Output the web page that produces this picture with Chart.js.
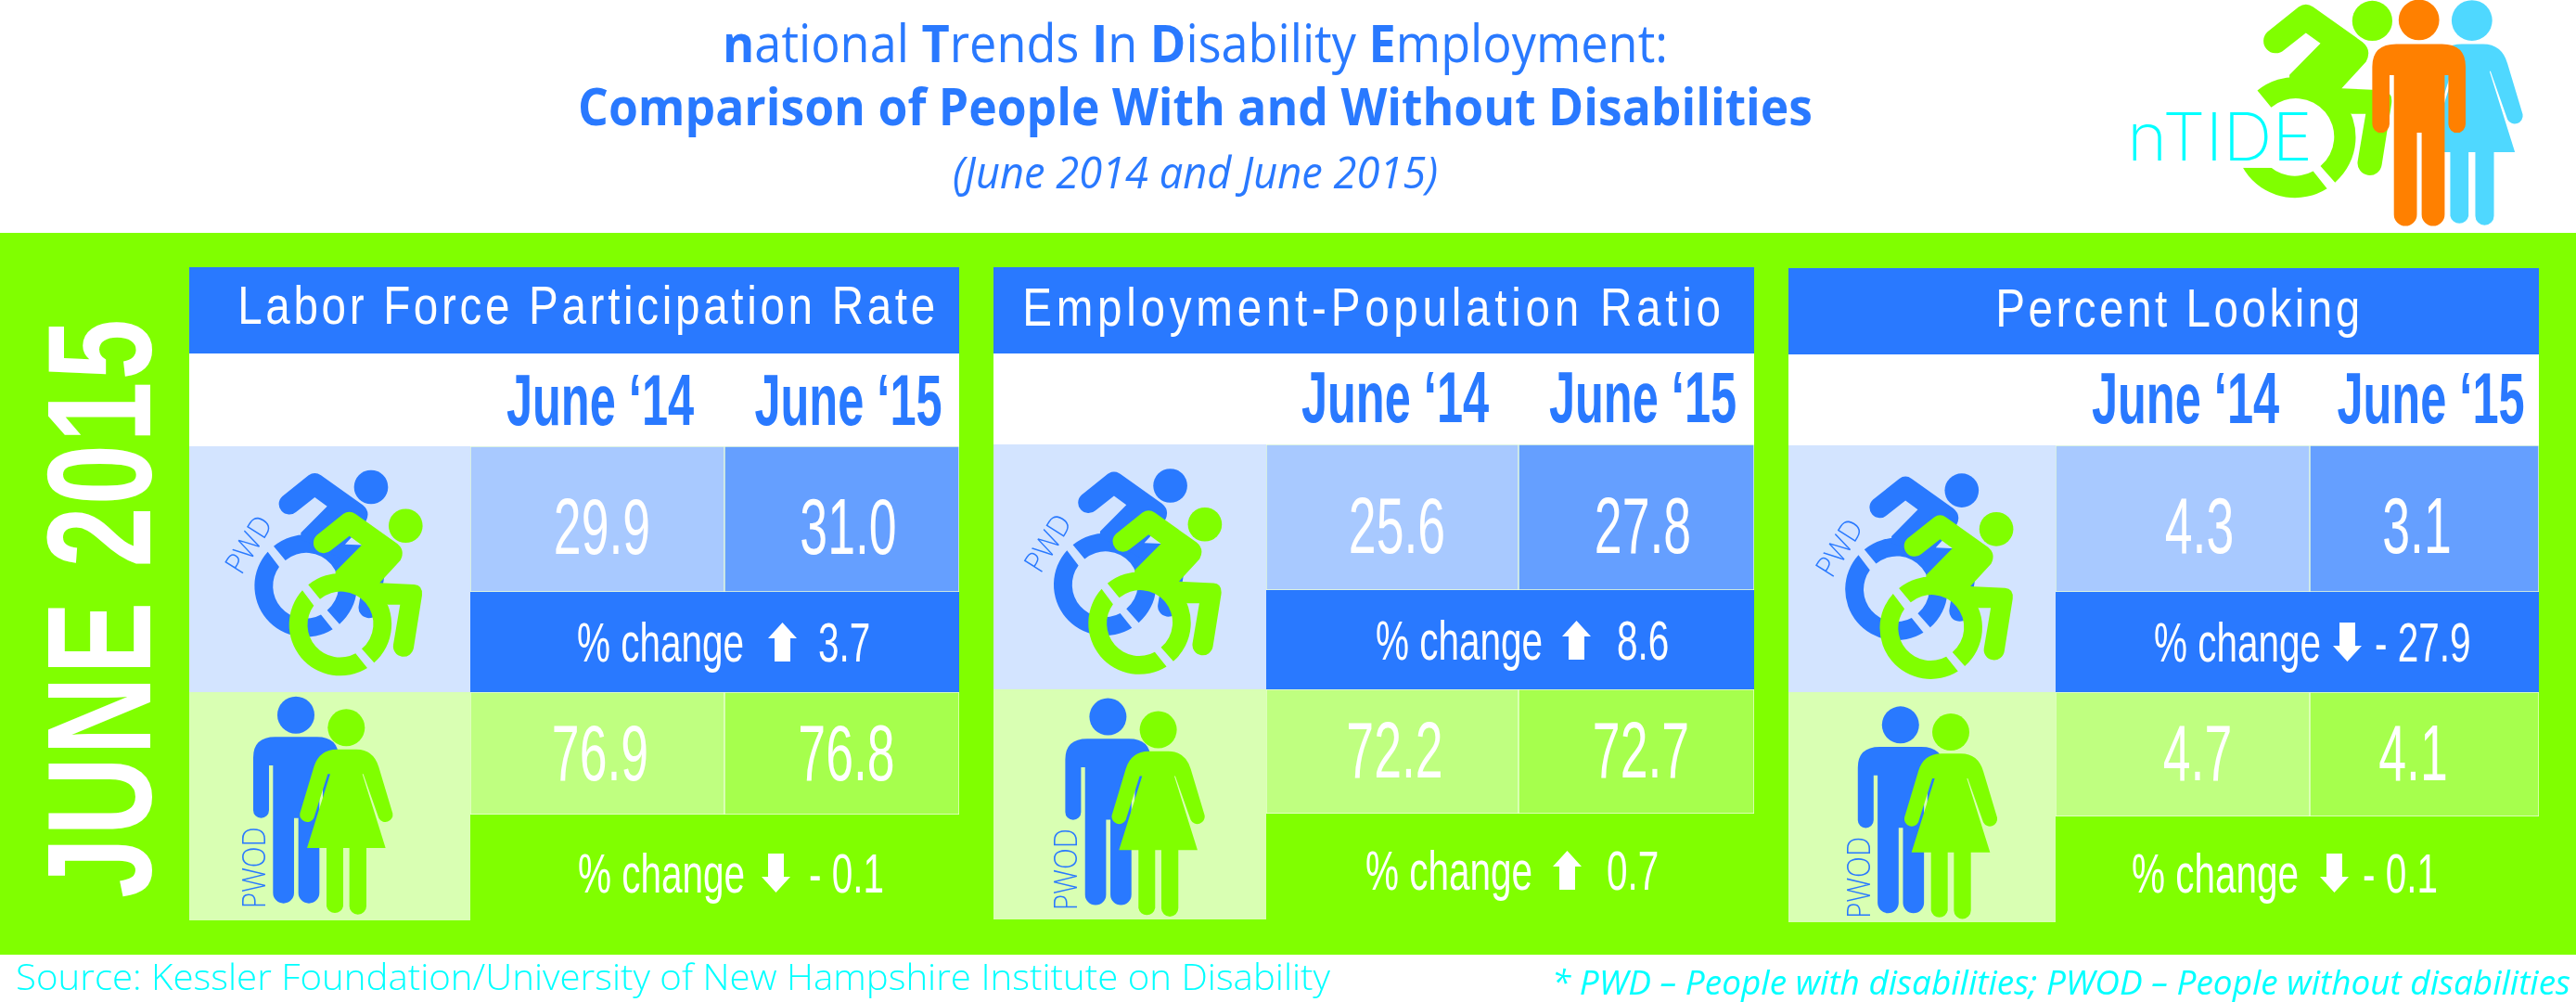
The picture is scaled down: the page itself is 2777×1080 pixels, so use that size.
<!DOCTYPE html>
<html>
<head>
<meta charset="utf-8">
<title>nTIDE June 2015</title>
<script src="https://cdn.jsdelivr.net/npm/chart.js@4/dist/chart.umd.js"></script>
<style>
    html, body { margin: 0; padding: 0; background: #fff; width: 2777px; height: 1080px; overflow: hidden; }
    #band { position: absolute; left: 0; top: 251px; width: 2777px; height: 778px; background: #80ff00; }
    canvas { position: absolute; }
    #overlay { position: absolute; left: 0; top: 0; }
</style>
</head>
<body>
<div id="band"></div>
<div id="charts"></div>
<svg id="overlay" width="2777" height="1080" viewBox="0 0 2777 1080" xmlns="http://www.w3.org/2000/svg">
    <defs>
        <g id="chair">
            <circle cx="212" cy="-320" r="55"/>
            <path d="M-103,-129 A165,165 0 0 1 110,123 L70,78 A105,105 0 0 0 -65,-83 Z"/>
            <path d="M-122,-111 A165,165 0 0 0 88,139.6 L50,92.3 A105,105 0 0 1 -85,-62 Z"/>
            <use href="#chairBody"/>
        </g>
        <path id="chairBody" d="M10,-358 Q30,-372 50,-358 L185,-262 Q212,-240 195,-208 L128,-135 L240,-130 Q268,-128 265,-95 L238,75 A33,33 0 0 1 172,65 L194,-65 L155,-65 L110,-90 L40,-130 L-15,-150 L-15,-172 L70,-258 L30,-287 L-30,-240 A30,30 0 0 1 -75,-290 Z"/>
        <g id="man">
            <circle cx="357" cy="77" r="60"/>
            <path d="M219,215 Q219,148 290,148 L425,148 Q495,148 495,215 L495,385 A25.5,25.5 0 0 1 444,385 L444,240 L433,240 L433,652 A34,34 0 0 1 365,652 L365,410 L351,410 L351,652 A34,34 0 0 1 283,652 L283,240 L270,240 L270,385 A25.5,25.5 0 0 1 219,385 Z"/>
        </g>
        <g id="woman">
            <circle cx="520" cy="118" r="60"/>
            <path d="M415,245 Q432,188 490,188 L553,188 Q608,188 625,245 L670,395 A24,24 0 0 1 625,410 L575,268 L572,268 L647,507 L585,507 L585,695 A27.5,27.5 0 0 1 530,695 L530,507 L510,507 L510,695 A27.5,27.5 0 0 1 456,695 L456,507 L393,507 L468,268 L460,268 L415,410 A24,24 0 0 1 370,395 Z"/>
        </g>
    </defs>
    <g id="titles" fill="#2979ff" font-family="'Open Sans'">
        <text x="779" y="67" font-size="56" textLength="1019" lengthAdjust="spacingAndGlyphs"><tspan font-weight="700">n</tspan>ational <tspan font-weight="700">T</tspan>rends <tspan font-weight="700">I</tspan>n <tspan font-weight="700">D</tspan>isability <tspan font-weight="700">E</tspan>mployment:</text>
        <text x="623" y="135" font-size="56" font-weight="700" textLength="1331" lengthAdjust="spacingAndGlyphs">Comparison of People With and Without Disabilities</text>
        <text x="1027" y="203" font-size="48" font-style="italic" textLength="523" lengthAdjust="spacingAndGlyphs">(June 2014 and June 2015)</text>
    </g>
    <g id="logo">
        <g transform="translate(2474,148.3) scale(0.3933)" fill="#80ff00">
            <path d="M-122,-111 A165,165 0 0 0 88,139.6 L50,92.3 A105,105 0 0 1 -85,-62 Z"/>
            <rect x="-190" y="-120" width="150" height="203" fill="#fff"/>
            <circle cx="212" cy="-320" r="55"/>
            <path d="M-103,-129 A165,165 0 0 1 110,123 L70,78 A105,105 0 0 0 -65,-83 Z"/>
            <use href="#chairBody"/>
        </g>
        <use href="#woman" fill="#4fd8ff" transform="translate(2475,-21) scale(0.365)"/>
        <use href="#man" fill="#ff8000" transform="translate(2477.5,-6.6) scale(0.3647)"/>
        <text x="2293" y="173" fill="#00ffff" font-family="Inter" font-weight="200" font-size="72" textLength="200" lengthAdjust="spacingAndGlyphs">nTIDE</text>
    </g>
    <text transform="translate(162,968) rotate(-90) scale(0.733,1)" fill="#fff" font-family="'Liberation Sans'" font-weight="700" font-size="160" letter-spacing="3">JUNE 2015</text>
    <text x="17" y="1067" fill="#00ffff" font-family="'Open Sans'" font-weight="300" font-size="38" textLength="1417" lengthAdjust="spacingAndGlyphs">Source: Kessler Foundation/University of New Hampshire Institute on Disability</text>
    <text x="1673" y="1072" fill="#00ffff" font-family="'Open Sans'" font-style="italic" font-size="37" textLength="1098" lengthAdjust="spacingAndGlyphs">* PWD – People with disabilities; PWOD – People without disabilities</text>
    <g id="icons"></g>
</svg>
<script>
// --- 1. DATA ---
const panelTitles = ['Labor Force Participation Rate', 'Employment-Population Ratio', 'Percent Looking'];
const monthLabels = ['June ‘14', 'June ‘15'];
const pwdJune14 = [29.9, 25.6, 4.3];
const pwdJune15 = [31.0, 27.8, 3.1];
const pwdChange = [3.7, 8.6, -27.9];
const pwodJune14 = [76.9, 72.2, 4.7];
const pwodJune15 = [76.8, 72.7, 4.1];
const pwodChange = [-0.1, 0.7, -0.1];

// --- 2. LAYOUT & STYLE ---
const BLUE = '#2979ff', GREEN = '#80ff00', WHITE = '#ffffff';
const BLUE_14 = '#a8c9ff', BLUE_15 = '#659fff', BLUE_ICON = '#d3e4ff';
const GREEN_14 = '#bfff80', GREEN_15 = '#a6ff4d', GREEN_ICON = '#d9ffb3';
const NARROW = "'Liberation Sans'"; // squeezed with sx below

// column edges, row edges, then where the texts sit inside each panel
const panelLayout = [
    { cols: [204, 507, 781, 1034], rows: [288, 381, 481, 638, 746, 878, 992],
      titleDx: 15, titleBase: 349, titleSpacing: 4.5, monthBase: 458,
      valueBase: [597, 841], valueDx: [[5, 7], [3, 5]],
      change: [{ base: 713, x: [622, 828, 882] }, { base: 962, x: [623, 821, 872] }],
      chairHead: [400, 525], peopleAt: [[200, 745], [200, 745]] },
    { cols: [1071, 1365, 1637, 1891], rows: [288, 381, 479, 636, 743, 877, 991],
      titleDx: 0, titleBase: 351, titleSpacing: 5.8, monthBase: 455,
      valueBase: [596, 838], valueDx: [[5, 7], [2.5, 5]],
      change: [{ base: 711, x: [1483, 1684, 1743] }, { base: 959, x: [1472, 1674, 1732] }],
      chairHead: [1261.6, 523.5], peopleAt: [[1075.4, 746.9], [1075.3, 747.2]] },
    { cols: [1928, 2216, 2490, 2737], rows: [289, 382, 480, 638, 746, 880, 994],
      titleDx: 17, titleBase: 352, titleSpacing: 4.3, monthBase: 456,
      valueBase: [596, 841], valueDx: [[18, -8], [16, -12]],
      change: [{ base: 713, x: [2322, 2515, 2560] }, { base: 962, x: [2298, 2501, 2547] }],
      chairHead: [2114.8, 528.6], peopleAt: [[1929.8, 755.7], [1929.7, 749.7]] }
];

const COL_IDS = ['xIcon', 'x14', 'x15'];
const ROW_IDS = ['yHead', 'yMonth', 'yPwd', 'yPwdChange', 'yPwod', 'yPwodChange'];

// --- 3. HELPERS ---
function drawLabel(ctx, str, x, y, sizePx, opts) {
    ctx.save();
    ctx.translate(x, y);
    ctx.scale(opts.sx || 1, 1);
    ctx.font = (opts.weight || '400') + ' ' + sizePx + 'px ' + NARROW;
    ctx.fillStyle = opts.color || WHITE;
    ctx.textAlign = opts.align || 'center';
    ctx.textBaseline = 'alphabetic';
    ctx.letterSpacing = (opts.spacing || 0) + 'px';
    ctx.fillText(str, 0, 0);
    ctx.restore();
}

function drawArrow(ctx, x, base, up) {
    const w = 31, h = 42, head = 17, shaft = 17;
    const top = base - h, bottom = base, mid = x + w / 2;
    ctx.save();
    ctx.fillStyle = WHITE;
    ctx.beginPath();
    if (up) {
        ctx.moveTo(mid, top);
        ctx.lineTo(x + w, top + head);
        ctx.lineTo(mid + shaft / 2, top + head);
        ctx.lineTo(mid + shaft / 2, bottom);
        ctx.lineTo(mid - shaft / 2, bottom);
        ctx.lineTo(mid - shaft / 2, top + head);
        ctx.lineTo(x, top + head);
    } else {
        ctx.moveTo(mid, bottom);
        ctx.lineTo(x + w, bottom - head);
        ctx.lineTo(mid + shaft / 2, bottom - head);
        ctx.lineTo(mid + shaft / 2, top);
        ctx.lineTo(mid - shaft / 2, top);
        ctx.lineTo(mid - shaft / 2, bottom - head);
        ctx.lineTo(x, bottom - head);
    }
    ctx.closePath();
    ctx.fill();
    ctx.restore();
}

function formatChange(v) {
    return v < 0 ? '- ' + Math.abs(v).toFixed(1) : v.toFixed(1);
}

// one bar filling one cell of the table; stacked axes give the cell its size
function cell(col, row, color, value, border) {
    return {
        xAxisID: COL_IDS[col],
        yAxisID: ROW_IDS[row],
        data: [{ x: COL_IDS[col], y: 1 }],
        cellValue: value,
        backgroundColor: color,
        borderColor: border ? 'rgba(255,255,255,0.85)' : color,
        borderWidth: border ? 1 : 0,
        borderSkipped: false,
        grouped: false,
        categoryPercentage: 1,
        barPercentage: 1
    };
}

function buildScales(layout) {
    const scales = {};
    COL_IDS.forEach((id, i) => {
        scales[id] = {
            type: 'category', labels: [id], position: 'bottom', display: false, offset: true,
            stack: 'cols', stackWeight: layout.cols[i + 1] - layout.cols[i]
        };
    });
    ROW_IDS.forEach((id, i) => {
        scales[id] = {
            type: 'linear', position: 'right', display: false, min: 0, max: 1,
            stack: 'rows', stackWeight: layout.rows[i + 1] - layout.rows[i]
        };
    });
    return scales;
}

// --- 4. CHARTS ---
const panelText = {
    id: 'panelText',
    afterDatasetsDraw(chart, args, opts) {
        const ctx = chart.ctx;
        const p = opts.panel;
        const layout = panelLayout[p];
        const originX = layout.cols[0], originY = layout.rows[0];
        const s = chart.scales;

        const titleX = (s.xIcon.left + s.x15.right) / 2 + layout.titleDx;
        drawLabel(ctx, panelTitles[p], titleX, layout.titleBase - originY, 58, { sx: 0.82, spacing: layout.titleSpacing });

        monthLabels.forEach((label, i) => {
            const col = s[COL_IDS[i + 1]];
            const dx = i === 0 ? 3 : 7;
            drawLabel(ctx, label, (col.left + col.right) / 2 + dx, layout.monthBase - originY, 77,
                { sx: 0.656, weight: '700', color: BLUE });
        });

        chart.data.datasets.forEach((ds, i) => {
            if (ds.cellValue === null) return;
            const bar = chart.getDatasetMeta(i).data[0];
            const group = ds.yAxisID === 'yPwd' ? 0 : 1;
            const colIndex = ds.xAxisID === 'x14' ? 0 : 1;
            drawLabel(ctx, ds.cellValue.toFixed(1), bar.x + layout.valueDx[group][colIndex],
                layout.valueBase[group] - originY, 86, { sx: 0.623 });
        });

        [pwdChange[p], pwodChange[p]].forEach((v, i) => {
            const c = layout.change[i];
            const base = c.base - originY;
            drawLabel(ctx, '% change', c.x[0] - originX, base, 60, { sx: 0.675, align: 'left' });
            drawArrow(ctx, c.x[1] - originX, base, v >= 0);
            drawLabel(ctx, formatChange(v), c.x[2] - originX, base, 60, { sx: 0.675, align: 'left' });
        });
    }
};

panelLayout.forEach((layout, p) => {
    const canvas = document.createElement('canvas');
    const width = layout.cols[3] - layout.cols[0];
    const height = layout.rows[6] - layout.rows[0];
    canvas.width = width;
    canvas.height = height;
    canvas.style.left = layout.cols[0] + 'px';
    canvas.style.top = layout.rows[0] + 'px';
    canvas.style.width = width + 'px';
    canvas.style.height = height + 'px';
    document.getElementById('charts').appendChild(canvas);

    new Chart(canvas.getContext('2d'), {
        type: 'bar',
        data: {
            datasets: [
                cell(0, 0, BLUE, null), cell(1, 0, BLUE, null), cell(2, 0, BLUE, null),
                cell(0, 1, WHITE, null), cell(1, 1, WHITE, null), cell(2, 1, WHITE, null),
                cell(0, 2, BLUE_ICON, null), cell(0, 3, BLUE_ICON, null),
                cell(1, 2, BLUE_14, pwdJune14[p], true), cell(2, 2, BLUE_15, pwdJune15[p], true),
                cell(1, 3, BLUE, null), cell(2, 3, BLUE, null),
                cell(0, 4, GREEN_ICON, null), cell(0, 5, GREEN_ICON, null),
                cell(1, 4, GREEN_14, pwodJune14[p], true), cell(2, 4, GREEN_15, pwodJune15[p], true),
                cell(1, 5, GREEN, null), cell(2, 5, GREEN, null)
            ]
        },
        options: {
            responsive: false,
            animation: false,
            devicePixelRatio: 1,
            layout: { padding: 0 },
            scales: buildScales(layout),
            plugins: { legend: { display: false }, tooltip: { enabled: false }, panelText: { panel: p } }
        },
        plugins: [panelText]
    });
});

// --- 5. ICONS ---
let iconMarkup = '';
panelLayout.forEach(layout => {
    const [hx, hy] = layout.chairHead;
    // head sits at (212,-320) in the symbol, drawn at a third of its size
    const bx = hx - 212 / 3, by = hy + 320 / 3;
    iconMarkup += `<use href="#chair" fill="${BLUE}" transform="translate(${bx},${by}) scale(0.3333)"/>`;
    iconMarkup += `<use href="#chair" fill="${GREEN}" transform="translate(${bx + 37.3},${by + 41.7}) scale(0.3333)"/>`;
    iconMarkup += `<text transform="translate(${hx - 140},${hy + 95.7}) rotate(-58)" fill="${BLUE}" font-family="'Open Sans'" font-weight="300" font-size="32" textLength="66" lengthAdjust="spacingAndGlyphs">PWD</text>`;
    const [manAt, womanAt] = layout.peopleAt;
    iconMarkup += `<use href="#man" fill="${BLUE}" transform="translate(${manAt[0]},${manAt[1]}) scale(0.3333)"/>`;
    iconMarkup += `<use href="#woman" fill="${GREEN}" transform="translate(${womanAt[0]},${womanAt[1]}) scale(0.3333)"/>`;
    iconMarkup += `<text transform="translate(${manAt[0] + 85.7},${manAt[1] + 234.3}) rotate(-90)" fill="${BLUE}" font-family="'Open Sans'" font-weight="300" font-size="34" textLength="88" lengthAdjust="spacingAndGlyphs">PWOD</text>`;
});
document.getElementById('icons').innerHTML = iconMarkup;
</script>
</body>
</html>
